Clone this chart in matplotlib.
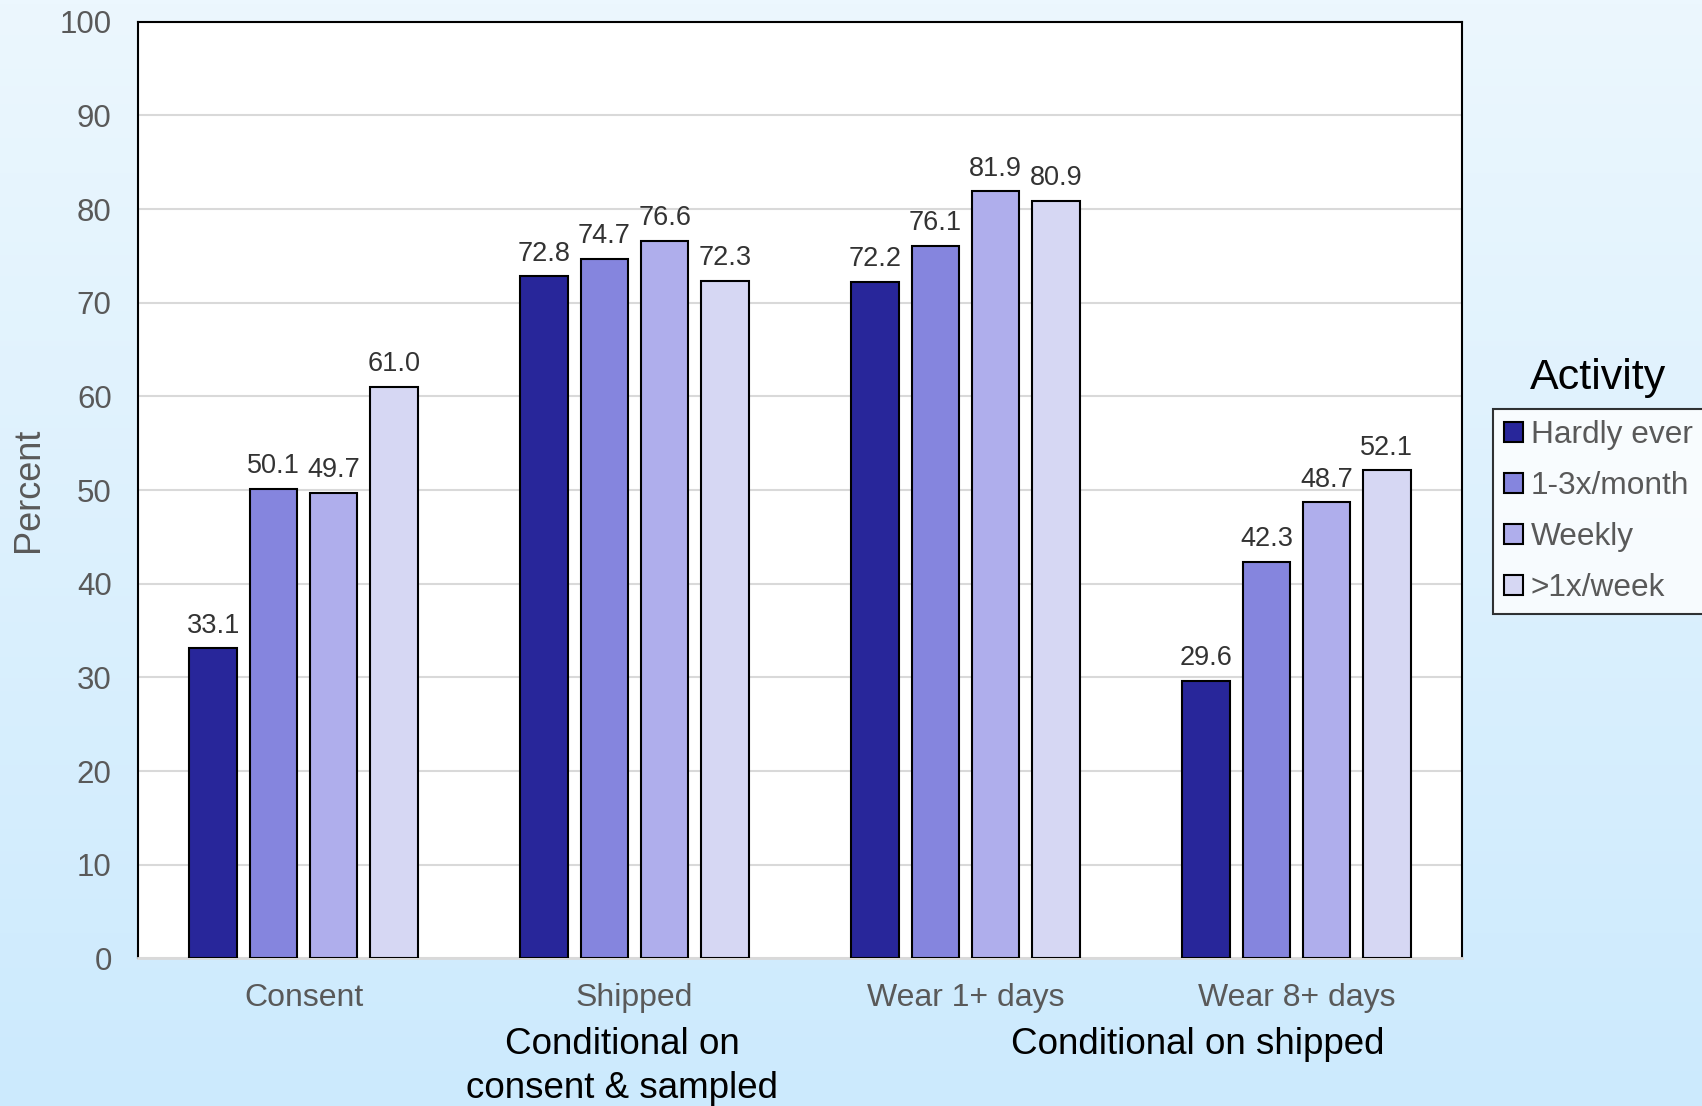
import numpy as np
import matplotlib
matplotlib.use("Agg")
import matplotlib.pyplot as plt
from matplotlib.patches import Patch

plt.rcParams['font.family'] = ['Liberation Sans', 'DejaVu Sans']

categories = ["Consent", "Shipped", "Wear 1+ days", "Wear 8+ days"]
series_names = ["Hardly ever", "1-3x/month", "Weekly", ">1x/week"]
values = {
    "Hardly ever": [33.1, 72.8, 72.2, 29.6],
    "1-3x/month": [50.1, 74.7, 76.1, 42.3],
    "Weekly": [49.7, 76.6, 81.9, 48.7],
    ">1x/week": [61.0, 72.3, 80.9, 52.1],
}
colors = ["#28269A", "#8585DE", "#AFAEEC", "#D6D7F3"]
yticks = list(range(0, 101, 10))

GRAY = "#595959"

fig = plt.figure(figsize=(17.02, 11.06), dpi=100)

# light blue vertical gradient behind everything
bg = fig.add_axes([0, 0, 1, 1], zorder=-10)
grad = np.linspace(0, 1, 256).reshape(-1, 1)
top = np.array([236, 247, 254]) / 255
bot = np.array([204, 234, 253]) / 255
img = top[None, None, :] * (1 - grad[:, :, None]) + bot[None, None, :] * grad[:, :, None]
bg.imshow(img, aspect="auto", extent=[0, 1, 0, 1])
bg.axis("off")

ax = fig.add_axes([0.0811, 0.1334, 0.859 - 0.0811, 0.9804 - 0.1334])
ax.set_facecolor("white")

x = np.arange(len(categories))
width = 0.144
step = 0.182
for i, (name, col) in enumerate(zip(series_names, colors)):
    pos = x + (i - 1.5) * step
    vals = values[name]
    ax.bar(pos, vals, width=width, color=col, edgecolor="black", linewidth=1.5, zorder=3)
    for px, v in zip(pos, vals):
        ax.annotate(f"{v:.1f}", (px, v), xytext=(0, 7), textcoords="offset points",
                    ha="center", va="bottom", fontsize=19.5, color="#333333")

ax.set_xlim(-0.5, 3.5)
ax.set_ylim(0, 100)
ax.set_yticks(yticks)
ax.set_yticklabels([str(t) for t in yticks], fontsize=22.5, color=GRAY)
ax.set_xticks(x)
ax.set_xticklabels(categories, fontsize=23, color=GRAY)
ax.tick_params(axis="y", length=0, pad=19)
ax.tick_params(axis="x", length=0, pad=18)
ax.yaxis.grid(True, color="#D9D9D9", linewidth=1.5, zorder=0)
ax.set_axisbelow(True)
for s in ["left", "top", "right"]:
    ax.spines[s].set_color("black")
    ax.spines[s].set_linewidth(1.5)
ax.spines["bottom"].set_color("#D9D9D9")
ax.spines["bottom"].set_linewidth(2)
ax.set_ylabel("Percent", fontsize=26, color=GRAY, labelpad=10)

# group notes under the category labels
fig.text(622 / 1702, 1 - 1044 / 1106, "Conditional on", ha="center", va="center",
         fontsize=26.5, color="black")
fig.text(622 / 1702, 1 - 1089 / 1106, "consent & sampled", ha="center", va="center",
         fontsize=26.5, color="black")
fig.text(1198 / 1702, 1 - 1044 / 1106, "Conditional on shipped", ha="center", va="center",
         fontsize=26.5, color="black")

handles = [Patch(facecolor=c, edgecolor="black", linewidth=1.5) for c in colors]
leg = fig.legend(handles, series_names, loc="upper left",
                 bbox_to_anchor=(1493 / 1702, 1 - 409 / 1106),
                 fontsize=22.8, frameon=True, fancybox=False, edgecolor="black",
                 handlelength=0.6, handleheight=0.6, handletextpad=0.25,
                 labelspacing=0.66, borderpad=0.35, borderaxespad=0)
leg.get_frame().set_linewidth(1.5)
for t in leg.get_texts():
    t.set_color(GRAY)

fig.text(1598 / 1702, 1 - 378 / 1106, "Activity", ha="center", va="center",
         fontsize=31, color="black")

fig.savefig("out.png", dpi=100)
